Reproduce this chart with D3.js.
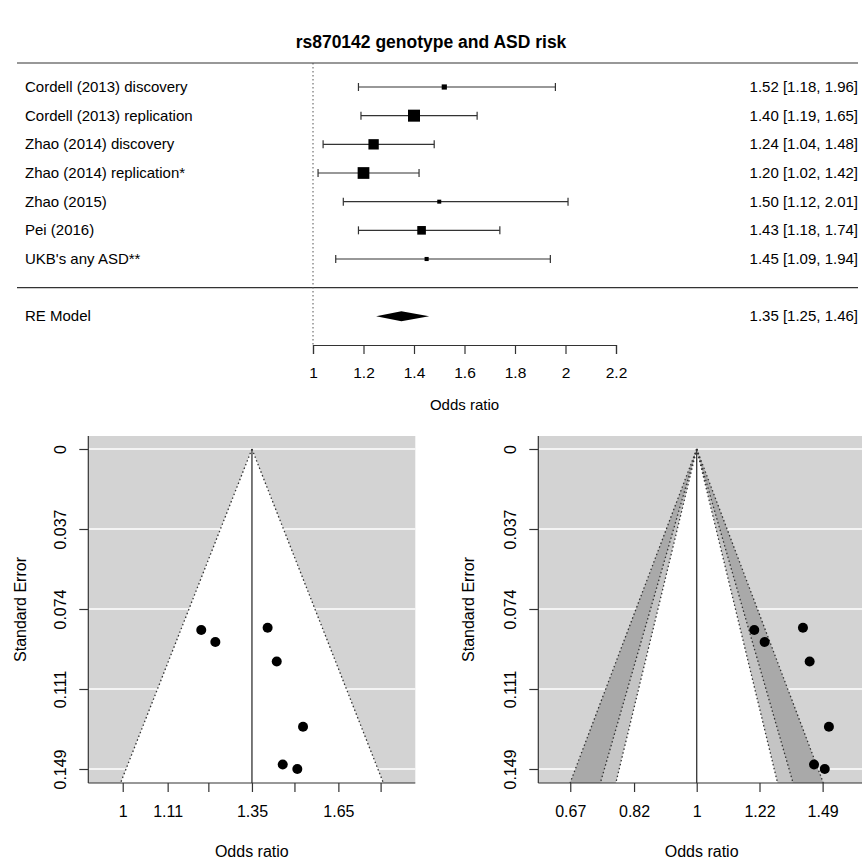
<!DOCTYPE html>
<html>
<head>
<meta charset="utf-8">
<script src="https://cdn.jsdelivr.net/npm/d3@7"></script>
<style>
  html, body { margin: 0; padding: 0; background: #fff; }
  svg { display: block; font-family: "Liberation Sans", Arial, Helvetica, sans-serif; }
</style>
</head>
<body>
<svg id="chart"></svg>
<script>
// Data
const studies = [
    "Cordell (2013) discovery",
    "Cordell (2013) replication",
    "Zhao (2014) discovery",
    "Zhao (2014) replication*",
    "Zhao (2015)",
    "Pei (2016)",
    "UKB's any ASD**"
];
const orEst  = [1.52, 1.40, 1.24, 1.20, 1.50, 1.43, 1.45];
const ciLow  = [1.18, 1.19, 1.04, 1.02, 1.12, 1.18, 1.09];
const ciHigh = [1.96, 1.65, 1.48, 1.42, 2.01, 1.74, 1.94];

const summaryLabel = "RE Model";
const summaryValues = [1.35, 1.25, 1.46]; // estimate, lower, upper

const forestTicks = [1, 1.2, 1.4, 1.6, 1.8, 2, 2.2];
const seTickLabels = ["0", "0.037", "0.074", "0.111", "0.149"];
const leftFunnelTicks = [1, 1.11, 1.22, 1.35, 1.49, 1.65, 1.82];
const leftFunnelLabels = ["1", "1.11", "", "1.35", "", "1.65", ""];
const rightFunnelTicks = [0.67, 0.82, 1, 1.22, 1.49];
const rightFunnelLabels = ["0.67", "0.82", "1", "1.22", "1.49"];
const contourZ = [2.576, 1.960, 1.645]; // 99%, 95%, 90%
const contourFill = ["#a9a9a9", "#c4c4c4", "#ffffff"];

const width = 862, height = 860;
const svg = d3.select('#chart').attr('width', width).attr('height', height);

// standard errors from the confidence intervals
const se = ciLow.map((lb, i) => (Math.log(ciHigh[i]) - Math.log(lb)) / (2 * 1.96));
const seMax = d3.max(se);

// ---------- title ----------
svg.append('text')
    .attr('x', 431).attr('y', 48)
    .attr('text-anchor', 'middle')
    .attr('font-size', 17.5).attr('font-weight', 'bold')
    .text('rs870142 genotype and ASD risk');

// ---------- forest plot ----------
const fx = d3.scaleLinear().domain([1, 2.2]).range([313, 616]);
const rowY = d3.scaleLinear().domain([7, -2]).range([87, 345]);

const forest = svg.append('g');
forest.append('line').attr('x1', 17).attr('x2', 858).attr('y1', 63).attr('y2', 63)
    .attr('stroke', '#333').attr('stroke-width', 1.2);
forest.append('line').attr('x1', 17).attr('x2', 858).attr('y1', rowY(0)).attr('y2', rowY(0))
    .attr('stroke', '#333').attr('stroke-width', 1.2);
forest.append('line').attr('x1', fx(1)).attr('x2', fx(1)).attr('y1', 63).attr('y2', rowY(-2))
    .attr('stroke', '#555').attr('stroke-dasharray', '1.5,2.5');

// weights for square size (inverse variance)
const w = se.map(s => 1 / (s * s));
const wScale = d3.scaleLinear().domain(d3.extent(w)).range([4, 12]);

const rows = forest.selectAll('.study')
    .data(studies.map((s, i) => ({ name: s, est: orEst[i], lb: ciLow[i], ub: ciHigh[i], w: w[i], row: 7 - i })))
    .join('g')
    .attr('class', 'study')
    .attr('transform', d => `translate(0,${rowY(d.row)})`);

rows.append('line').attr('x1', d => fx(d.lb)).attr('x2', d => fx(d.ub))
    .attr('stroke', '#333').attr('stroke-width', 1.2);
rows.append('line').attr('x1', d => fx(d.lb)).attr('x2', d => fx(d.lb)).attr('y1', -4).attr('y2', 4)
    .attr('stroke', '#333').attr('stroke-width', 1.2);
rows.append('line').attr('x1', d => fx(d.ub)).attr('x2', d => fx(d.ub)).attr('y1', -4).attr('y2', 4)
    .attr('stroke', '#333').attr('stroke-width', 1.2);
rows.append('rect')
    .attr('x', d => fx(d.est) - wScale(d.w) / 2)
    .attr('y', d => -wScale(d.w) / 2)
    .attr('width', d => wScale(d.w)).attr('height', d => wScale(d.w))
    .attr('fill', '#000');
rows.append('text').attr('x', 25).attr('y', 5).attr('font-size', 15).text(d => d.name);
rows.append('text').attr('x', 858).attr('y', 5).attr('font-size', 15).attr('text-anchor', 'end')
    .text(d => `${d.est.toFixed(2)} [${d.lb.toFixed(2)}, ${d.ub.toFixed(2)}]`);

// summary diamond
const sy = rowY(-1);
const [sEst, sLb, sUb] = summaryValues;
forest.append('path')
    .attr('d', `M${fx(sLb)},${sy}L${fx(sEst)},${sy - 5}L${fx(sUb)},${sy}L${fx(sEst)},${sy + 5}Z`)
    .attr('fill', '#000');
forest.append('text').attr('x', 25).attr('y', sy + 5).attr('font-size', 15).text(summaryLabel);
forest.append('text').attr('x', 858).attr('y', sy + 5).attr('font-size', 15).attr('text-anchor', 'end')
    .text(`${sEst.toFixed(2)} [${sLb.toFixed(2)}, ${sUb.toFixed(2)}]`);

// forest axis
const fAxis = forest.append('g')
    .attr('transform', `translate(0,${rowY(-2)})`)
    .call(d3.axisBottom(fx).tickValues(forestTicks).tickFormat(d3.format('')).tickSizeOuter(0).tickSize(9).tickPadding(13));
fAxis.selectAll('text').attr('font-size', 15.5).attr('fill', '#000').attr('font-family', null);
fAxis.selectAll('line, path').attr('stroke', '#333').attr('stroke-width', 1.2);
forest.append('text').attr('x', fx(1.6)).attr('y', 410).attr('text-anchor', 'middle')
    .attr('font-size', 15).text('Odds ratio');

// ---------- funnel plots ----------
const plotTop = 436, plotBottom = 783;
const fy = d3.scaleLinear().domain([0, seMax]).range([449, 769]);
const seBottom = fy.invert(plotBottom);
const seTicks = seTickLabels.map((_, i) => seMax * i / 4);

const points = orEst.map((o, i) => ({ or: o, se: se[i] }));

function funnelFrame(g, x0, x1) {
    g.append('rect').attr('x', x0).attr('y', plotTop).attr('width', x1 - x0).attr('height', plotBottom - plotTop)
        .attr('fill', '#d3d3d3');
    g.selectAll('.grid').data(seTicks).join('line').attr('class', 'grid')
        .attr('x1', x0).attr('x2', x1).attr('y1', d => fy(d)).attr('y2', d => fy(d))
        .attr('stroke', '#fff').attr('stroke-width', 1.5);
}

function funnelAxes(g, x, x0, x1, ticks, labels, labelX, titleX) {
    const xa = g.append('g').attr('transform', `translate(0,${plotBottom})`)
        .call(d3.axisBottom(x).tickValues(ticks).tickFormat((d, i) => labels[i]).tickSizeOuter(0).tickSize(9).tickPadding(14));
    xa.select('.domain').attr('d', `M${x0},0H${x1}`);
    xa.selectAll('text').attr('font-size', 16).attr('fill', '#000').attr('font-family', null);
    xa.selectAll('line, path').attr('stroke', '#333').attr('stroke-width', 1.2);

    const ya = g.append('g').attr('transform', `translate(${x0},0)`)
        .call(d3.axisLeft(fy).tickValues(seTicks).tickFormat((d, i) => seTickLabels[i]).tickSizeOuter(0).tickSize(9));
    ya.select('.domain').attr('d', `M0,${plotTop}V${plotBottom}`);
    ya.selectAll('line, path').attr('stroke', '#333').attr('stroke-width', 1.2);
    ya.selectAll('text')
        .attr('x', null).attr('dy', null)
        .attr('text-anchor', 'middle').attr('font-size', 16).attr('fill', '#000').attr('font-family', null)
        .attr('transform', `translate(${labelX - x0},0) rotate(-90)`)
        .attr('dy', '0.35em');

    g.append('text').attr('transform', `translate(${titleX},${(plotTop + plotBottom) / 2}) rotate(-90)`)
        .attr('text-anchor', 'middle').attr('dy', '0.35em').attr('font-size', 16).text('Standard Error');
    g.append('text').attr('x', (x0 + x1) / 2).attr('y', 857).attr('text-anchor', 'middle')
        .attr('font-size', 16).text('Odds ratio');
}

function drawPoints(g, x) {
    g.selectAll('.pt').data(points).join('circle').attr('class', 'pt')
        .attr('cx', d => x(d.or)).attr('cy', d => fy(d.se)).attr('r', 5).attr('fill', '#000');
}

function sideLines(g, x, center, z) {
    const lc = Math.log(center);
    [-1, 1].forEach(s => {
        g.append('line')
            .attr('x1', x(center)).attr('y1', fy(0))
            .attr('x2', x(Math.exp(lc + s * z * seBottom))).attr('y2', plotBottom)
            .attr('stroke', '#333').attr('stroke-width', 1.3).attr('stroke-dasharray', '1.5,2.5');
    });
}

function triangle(x, center, z) {
    const lc = Math.log(center);
    return `M${x(center)},${fy(0)}L${x(Math.exp(lc - z * seBottom))},${plotBottom}L${x(Math.exp(lc + z * seBottom))},${plotBottom}Z`;
}

// left funnel (centred on the RE estimate)
const lx = d3.scaleLog().domain([0.9232, 1.9727]).range([88.3, 415.3]);
const left = svg.append('g');
funnelFrame(left, 88.3, 415.3);
left.append('path').attr('d', triangle(lx, sEst, 1.96)).attr('fill', '#fff');
sideLines(left, lx, sEst, 1.96);
left.append('line').attr('x1', lx(sEst)).attr('x2', lx(sEst)).attr('y1', fy(0)).attr('y2', plotBottom)
    .attr('stroke', '#333').attr('stroke-width', 1.3);
drawPoints(left, lx);
funnelAxes(left, lx, 88.3, 415.3, leftFunnelTicks, leftFunnelLabels, 60, 20);

// right funnel (contour-enhanced, centred on 1)
const rx = d3.scaleLog().domain([0.6055, 1.704]).range([538.3, 865]);
const right = svg.append('g');
funnelFrame(right, 538.3, 865);
contourZ.forEach((z, i) => {
    right.append('path').attr('d', triangle(rx, 1, z)).attr('fill', contourFill[i]);
});
contourZ.forEach(z => sideLines(right, rx, 1, z));
right.append('line').attr('x1', rx(1)).attr('x2', rx(1)).attr('y1', fy(0)).attr('y2', plotBottom)
    .attr('stroke', '#333').attr('stroke-width', 1.3);
drawPoints(right, rx);
funnelAxes(right, rx, 538.3, 865, rightFunnelTicks, rightFunnelLabels, 510, 468);
</script>
</body>
</html>
